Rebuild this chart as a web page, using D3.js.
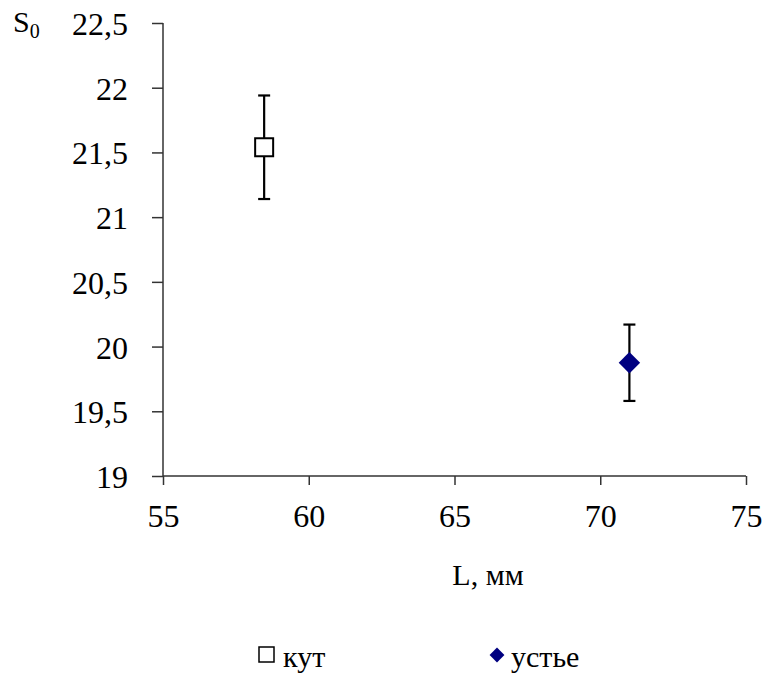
<!DOCTYPE html>
<html><head><meta charset="utf-8">
<script src="https://cdn.jsdelivr.net/npm/d3@7"></script>
<style>body{margin:0;background:#fff}svg{display:block}text{font-family:"Liberation Serif","Times New Roman",serif;fill:#000}</style>
</head><body>
<script>
const seriesNames = ["кут", "устье"];
const xValues = [58.47, 71.0];
const yValues = [21.54, 19.875];
const yErrors = [0.40, 0.295];
const xTicks = [55, 60, 65, 70, 75];
const yTicks = [19, 19.5, 20, 20.5, 21, 21.5, 22, 22.5];
const fmt = v => String(v).replace(".", ",");
const FF = '"Liberation Serif","Times New Roman",serif';

const W = 765, H = 675;
const svg = d3.select("body").append("svg").attr("width", W).attr("height", H);
const x = d3.scaleLinear().domain([55, 75]).range([163, 746]);
const y = d3.scaleLinear().domain([19, 22.5]).range([476, 23]);

const xAxis = svg.append("g").attr("transform", "translate(0,476)")
  .call(d3.axisBottom(x).tickValues(xTicks).tickFormat(fmt).tickSizeOuter(0).tickSize(9).tickPadding(19));
const yAxis = svg.append("g").attr("transform", "translate(163,0)")
  .call(d3.axisLeft(y).tickValues(yTicks).tickFormat(fmt).tickSizeOuter(0).tickSize(11).tickPadding(24));
[xAxis, yAxis].forEach(a => {
  a.attr("font-family", FF).attr("font-size", 32);
  a.selectAll("path,line").attr("stroke", "#333").attr("stroke-width", 1.5);
  a.selectAll("text").attr("font-family", FF).attr("font-size", 32).attr("fill", "#000");
});
yAxis.selectAll("text").attr("dy", "0.36em");
xAxis.select(".domain").attr("d", `M${x(55)},0H${x(75)}`);
yAxis.select(".domain").attr("d", `M0,${y(19)}V${y(22.5)}`);

// error bars
const data = xValues.map((v, i) => ({x: v, y: yValues[i], e: yErrors[i], name: seriesNames[i]}));
const eb = svg.append("g").attr("stroke", "#000").attr("stroke-width", 2.2);
data.forEach(d => {
  const cx = x(d.x);
  eb.append("line").attr("x1", cx).attr("x2", cx).attr("y1", y(d.y + d.e)).attr("y2", y(d.y - d.e));
  [d.y + d.e, d.y - d.e].forEach(v => eb.append("line").attr("x1", cx - 6).attr("x2", cx + 6).attr("y1", y(v)).attr("y2", y(v)));
});
// markers
const d0 = data[0], d1 = data[1];
svg.append("rect").attr("x", x(d0.x) - 9).attr("y", y(d0.y) - 9).attr("width", 18).attr("height", 18)
  .attr("fill", "#fff").attr("stroke", "#000").attr("stroke-width", 2);
svg.append("path").attr("d", d3.symbol(d3.symbolSquare, 230)())
  .attr("transform", `translate(${x(d1.x)},${y(d1.y)}) rotate(45)`).attr("fill", "#000080");

// axis titles
svg.append("text").attr("x", 13).attr("y", 32).attr("font-family", FF).attr("font-size", 30).text("S")
  .append("tspan").attr("dy", 6).attr("font-size", 20).text("0");
svg.append("text").attr("x", 488).attr("y", 585).attr("text-anchor", "middle").attr("font-family", FF).attr("font-size", 30).text("L, мм");

// legend
const lg = svg.append("g");
lg.append("rect").attr("x", 259).attr("y", 647).attr("width", 15).attr("height", 15).attr("fill", "#fff").attr("stroke", "#000").attr("stroke-width", 1.5);
lg.append("text").attr("x", 283).attr("y", 667).attr("font-family", FF).attr("font-size", 30).text(seriesNames[0]);
lg.append("path").attr("d", d3.symbol(d3.symbolSquare, 110)()).attr("transform", "translate(497,655) rotate(45)").attr("fill", "#000080");
lg.append("text").attr("x", 511).attr("y", 667).attr("font-family", FF).attr("font-size", 30).text(seriesNames[1]);
</script>
</body></html>
